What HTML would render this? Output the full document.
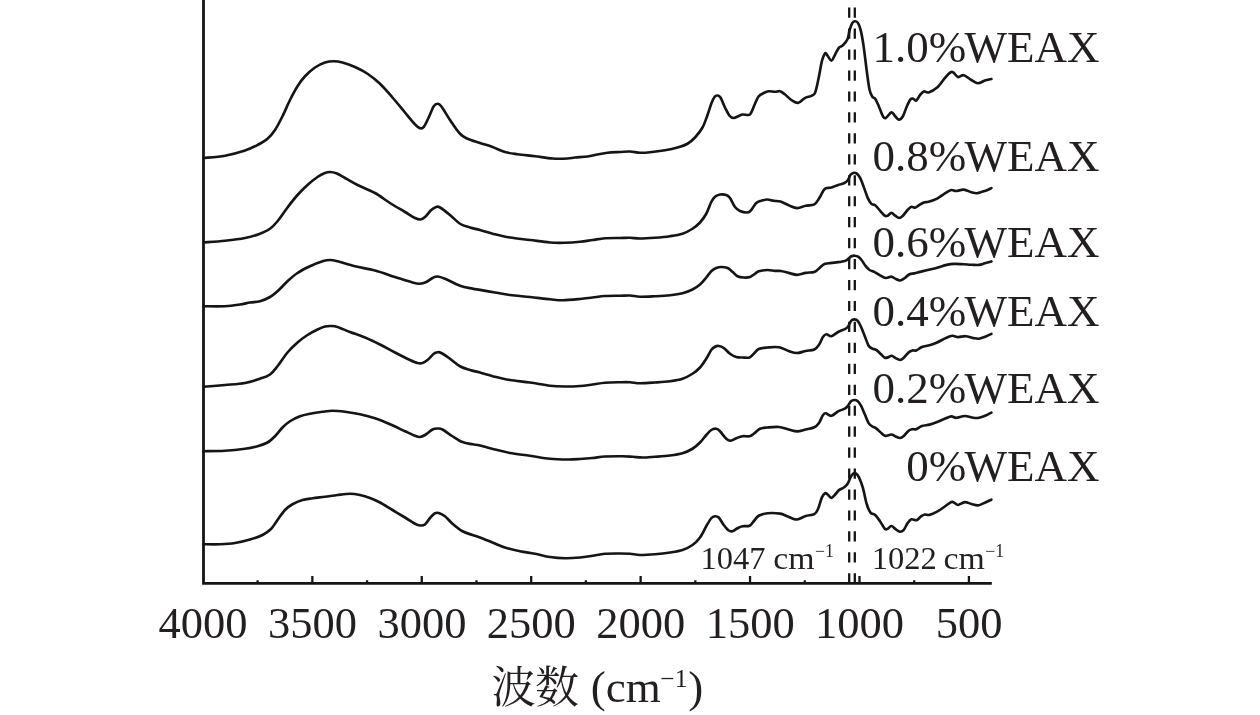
<!DOCTYPE html><html lang="zh"><head><meta charset="utf-8"><title>FTIR</title><style>
html,body{margin:0;padding:0;background:#fff;}body{width:1260px;height:715px;overflow:hidden;position:relative;font-family:"Liberation Serif",serif;}
svg{position:absolute;left:0;top:0;display:block;will-change:transform;transform:translateZ(0)}
text{font-family:"Liberation Serif",serif;fill:#231f20;}
</style></head><body>
<svg width="1260" height="715" viewBox="0 0 1260 715">
<rect width="1260" height="715" fill="#fff"/>
<g fill="none" stroke="#151515" stroke-width="2.8" stroke-linecap="butt">
<path d="M203.5 0V583.3H991.8"/>
<path d="M312.33 583.3V576.1M421.76 583.3V576.1M531.19 583.3V576.1M640.62 583.3V576.1M750.05 583.3V576.1M859.48 583.3V576.1M968.91 583.3V576.1M257.62 583.3V580.2M367.05 583.3V580.2M476.48 583.3V580.2M585.90 583.3V580.2M695.34 583.3V580.2M804.76 583.3V580.2M914.20 583.3V580.2" stroke-width="2.3"/>
</g>
<g stroke="#151515" stroke-width="2.3" stroke-dasharray="10.2 10.75" fill="none">
<path d="M849.2 7.6V583.3"/><path d="M854.8 7.6V583.3"/>
</g>
<g fill="none" stroke="#151515" stroke-width="2.65" stroke-linejoin="round" stroke-linecap="round">
<path d="M203.50 158.00C207.08 157.62 218.08 157.00 225.00 155.75C231.92 154.50 239.58 152.29 245.00 150.50C250.42 148.71 253.75 146.96 257.50 145.00C261.25 143.04 264.58 141.25 267.50 138.75C270.42 136.25 272.50 133.75 275.00 130.00C277.50 126.25 280.00 121.25 282.50 116.25C285.00 111.25 287.50 105.00 290.00 100.00C292.50 95.00 295.00 90.21 297.50 86.25C300.00 82.29 302.08 79.38 305.00 76.25C307.92 73.12 311.67 69.79 315.00 67.50C318.33 65.21 321.88 63.54 325.00 62.50C328.12 61.46 330.83 61.25 333.75 61.25C336.67 61.25 338.96 61.54 342.50 62.50C346.04 63.46 350.83 65.12 355.00 67.00C359.17 68.88 363.33 70.96 367.50 73.75C371.67 76.54 375.83 79.79 380.00 83.75C384.17 87.71 388.33 92.71 392.50 97.50C396.67 102.29 401.25 108.03 405.00 112.50C408.75 116.97 412.45 121.67 415.00 124.30C417.55 126.93 418.80 127.92 420.30 128.30C421.80 128.68 422.57 128.48 424.00 126.60C425.43 124.72 427.27 120.39 428.90 117.00C430.52 113.61 432.32 108.46 433.75 106.25C435.18 104.04 436.25 103.75 437.50 103.75C438.75 103.75 439.17 103.54 441.25 106.25C443.33 108.96 446.88 115.42 450.00 120.00C453.12 124.58 457.08 130.62 460.00 133.75C462.92 136.88 464.17 137.21 467.50 138.75C470.83 140.29 475.83 141.62 480.00 143.00C484.17 144.38 488.33 145.50 492.50 147.00C496.67 148.50 500.83 150.79 505.00 152.00C509.17 153.21 512.50 153.54 517.50 154.25C522.50 154.96 529.17 155.54 535.00 156.25C540.83 156.96 547.08 158.12 552.50 158.50C557.92 158.88 563.75 158.67 567.50 158.50C571.25 158.33 571.67 157.83 575.00 157.50C578.33 157.17 583.75 157.00 587.50 156.50C591.25 156.00 594.17 155.12 597.50 154.50C600.83 153.88 603.75 153.17 607.50 152.75C611.25 152.33 616.25 152.21 620.00 152.00C623.75 151.79 626.67 151.38 630.00 151.50C633.33 151.62 636.67 152.62 640.00 152.75C643.33 152.88 645.83 152.67 650.00 152.25C654.17 151.83 660.42 151.04 665.00 150.25C669.58 149.46 673.75 148.58 677.50 147.50C681.25 146.42 684.58 145.42 687.50 143.75C690.42 142.08 692.50 140.21 695.00 137.50C697.50 134.79 700.42 131.25 702.50 127.50C704.58 123.75 706.04 118.96 707.50 115.00C708.96 111.04 710.08 106.75 711.25 103.75C712.42 100.75 713.46 98.38 714.50 97.00C715.54 95.62 716.50 95.42 717.50 95.50C718.50 95.58 719.25 95.50 720.50 97.50C721.75 99.50 723.50 104.46 725.00 107.50C726.50 110.54 728.04 114.00 729.50 115.75C730.96 117.50 732.21 117.96 733.75 118.00C735.29 118.04 737.29 116.58 738.75 116.00C740.21 115.42 740.83 114.67 742.50 114.50C744.17 114.33 747.29 115.33 748.75 115.00C750.21 114.67 750.21 114.38 751.25 112.50C752.29 110.62 753.75 106.46 755.00 103.75C756.25 101.04 757.29 98.04 758.75 96.25C760.21 94.46 762.08 93.83 763.75 93.00C765.42 92.17 766.88 91.46 768.75 91.25C770.62 91.04 773.12 91.75 775.00 91.75C776.88 91.75 778.37 90.83 780.00 91.25C781.63 91.67 782.90 92.84 784.80 94.30C786.70 95.76 789.18 98.57 791.40 100.00C793.62 101.43 795.87 103.22 798.10 102.90C800.33 102.58 802.58 99.28 804.80 98.10C807.02 96.92 809.67 96.75 811.40 95.80C813.13 94.85 813.93 95.67 815.20 92.40C816.47 89.13 817.88 81.43 819.00 76.20C820.12 70.97 820.93 64.75 821.90 61.00C822.87 57.25 824.00 54.82 824.80 53.70C825.60 52.58 825.60 53.15 826.70 54.30C827.80 55.45 829.98 60.60 831.40 60.60C832.82 60.60 833.93 56.47 835.20 54.30C836.47 52.13 837.72 49.10 839.00 47.60C840.28 46.10 841.47 46.73 842.90 45.30C844.33 43.87 846.50 41.47 847.60 39.00C848.70 36.53 848.70 33.18 849.50 30.50C850.30 27.82 851.45 24.43 852.40 22.90C853.35 21.37 854.25 21.25 855.20 21.30C856.15 21.35 857.13 21.52 858.10 23.20C859.07 24.88 860.05 27.33 861.00 31.40C861.95 35.47 862.85 41.08 863.80 47.60C864.75 54.12 865.75 63.52 866.70 70.50C867.65 77.48 868.55 85.12 869.50 89.50C870.45 93.88 871.45 95.27 872.40 96.80C873.35 98.33 874.10 97.05 875.20 98.70C876.30 100.35 877.72 103.78 879.00 106.70C880.28 109.62 881.78 114.30 882.90 116.20C884.02 118.10 884.28 118.73 885.70 118.10C887.12 117.47 889.82 112.72 891.40 112.40C892.98 112.08 893.93 115.00 895.20 116.20C896.47 117.40 897.72 119.60 899.00 119.60C900.28 119.60 901.62 118.35 902.90 116.20C904.18 114.05 905.43 109.50 906.70 106.70C907.97 103.90 909.40 100.73 910.50 99.40C911.60 98.07 912.35 98.50 913.30 98.70C914.25 98.90 915.08 101.18 916.20 100.60C917.32 100.02 918.73 96.73 920.00 95.20C921.27 93.67 922.37 91.87 923.80 91.40C925.23 90.93 926.38 93.03 928.60 92.40C930.82 91.77 934.40 89.98 937.10 87.60C939.80 85.22 942.57 80.63 944.80 78.10C947.03 75.57 949.08 73.35 950.50 72.40C951.92 71.45 952.03 71.62 953.30 72.40C954.57 73.18 956.35 76.63 958.10 77.10C959.85 77.57 961.58 74.72 963.80 75.20C966.02 75.68 969.02 78.67 971.40 80.00C973.78 81.33 975.87 83.10 978.10 83.20C980.33 83.30 982.58 81.30 984.80 80.60C987.02 79.90 990.30 79.27 991.40 79.00"/>
<path d="M203.50 242.50C207.08 242.21 218.08 241.50 225.00 240.75C231.92 240.00 239.17 239.17 245.00 238.00C250.83 236.83 255.83 235.29 260.00 233.75C264.17 232.21 267.08 230.83 270.00 228.75C272.92 226.67 274.58 224.79 277.50 221.25C280.42 217.71 284.17 211.88 287.50 207.50C290.83 203.12 294.17 198.75 297.50 195.00C300.83 191.25 304.17 188.00 307.50 185.00C310.83 182.00 314.58 179.00 317.50 177.00C320.42 175.00 322.92 173.83 325.00 173.00C327.08 172.17 328.12 171.96 330.00 172.00C331.88 172.04 333.75 172.25 336.25 173.25C338.75 174.25 341.46 176.04 345.00 178.00C348.54 179.96 352.50 182.50 357.50 185.00C362.50 187.50 369.58 190.00 375.00 193.00C380.42 196.00 385.00 199.83 390.00 203.00C395.00 206.17 400.83 209.50 405.00 212.00C409.17 214.50 412.42 216.75 415.00 218.00C417.58 219.25 418.83 219.67 420.50 219.50C422.17 219.33 423.21 218.58 425.00 217.00C426.79 215.42 429.38 211.67 431.25 210.00C433.12 208.33 434.79 207.42 436.25 207.00C437.71 206.58 437.71 206.17 440.00 207.50C442.29 208.83 446.67 212.29 450.00 215.00C453.33 217.71 456.67 221.67 460.00 223.75C463.33 225.83 466.67 226.46 470.00 227.50C473.33 228.54 475.83 228.88 480.00 230.00C484.17 231.12 490.00 233.00 495.00 234.25C500.00 235.50 504.17 236.54 510.00 237.50C515.83 238.46 523.33 239.17 530.00 240.00C536.67 240.83 544.17 242.04 550.00 242.50C555.83 242.96 560.00 242.88 565.00 242.75C570.00 242.62 575.42 242.21 580.00 241.75C584.58 241.29 588.33 240.58 592.50 240.00C596.67 239.42 600.42 238.58 605.00 238.25C609.58 237.92 615.83 238.08 620.00 238.00C624.17 237.92 626.67 237.67 630.00 237.75C633.33 237.83 635.83 238.50 640.00 238.50C644.17 238.50 650.00 238.12 655.00 237.75C660.00 237.38 665.42 236.92 670.00 236.25C674.58 235.58 678.75 235.00 682.50 233.75C686.25 232.50 689.58 230.62 692.50 228.75C695.42 226.88 697.71 225.00 700.00 222.50C702.29 220.00 704.38 217.17 706.25 213.75C708.12 210.33 709.79 204.83 711.25 202.00C712.71 199.17 713.54 198.00 715.00 196.75C716.46 195.50 718.12 194.79 720.00 194.50C721.88 194.21 724.58 194.42 726.25 195.00C727.92 195.58 728.54 196.00 730.00 198.00C731.46 200.00 733.33 204.83 735.00 207.00C736.67 209.17 737.92 210.08 740.00 211.00C742.08 211.92 745.62 212.67 747.50 212.50C749.38 212.33 749.79 211.58 751.25 210.00C752.71 208.42 754.58 204.54 756.25 203.00C757.92 201.46 759.38 201.33 761.25 200.75C763.12 200.17 765.42 199.50 767.50 199.50C769.58 199.50 771.58 200.40 773.75 200.75C775.92 201.10 778.02 200.86 780.50 201.60C782.98 202.34 785.83 204.12 788.60 205.20C791.37 206.28 794.25 208.00 797.10 208.10C799.95 208.20 802.83 206.43 805.70 205.80C808.57 205.17 812.08 205.50 814.30 204.30C816.52 203.10 817.42 200.98 819.00 198.60C820.58 196.22 822.52 191.75 823.80 190.00C825.08 188.25 825.43 188.52 826.70 188.10C827.97 187.68 829.50 188.03 831.40 187.50C833.30 186.97 836.03 185.60 838.10 184.90C840.17 184.20 842.22 184.03 843.80 183.30C845.38 182.57 846.48 181.92 847.60 180.50C848.72 179.08 849.55 176.07 850.50 174.80C851.45 173.53 852.35 173.17 853.30 172.90C854.25 172.63 855.08 172.42 856.20 173.20C857.32 173.98 858.73 175.28 860.00 177.60C861.27 179.92 862.53 183.77 863.80 187.10C865.07 190.43 866.33 194.80 867.60 197.60C868.87 200.40 870.13 202.63 871.40 203.90C872.67 205.17 873.77 204.08 875.20 205.20C876.63 206.32 878.40 208.85 880.00 210.60C881.60 212.35 883.53 214.85 884.80 215.70C886.07 216.55 886.50 216.17 887.60 215.70C888.70 215.23 890.13 212.90 891.40 212.90C892.67 212.90 893.93 214.85 895.20 215.70C896.47 216.55 897.72 218.00 899.00 218.00C900.28 218.00 901.47 217.03 902.90 215.70C904.33 214.37 906.18 211.48 907.60 210.00C909.02 208.52 910.13 207.18 911.40 206.80C912.67 206.42 913.93 207.97 915.20 207.70C916.47 207.43 917.57 206.08 919.00 205.20C920.43 204.32 922.20 202.97 923.80 202.40C925.40 201.83 926.38 202.43 928.60 201.80C930.82 201.17 934.25 200.08 937.10 198.60C939.95 197.12 943.32 194.33 945.70 192.90C948.08 191.47 949.65 190.32 951.40 190.00C953.15 189.68 954.13 191.07 956.20 191.00C958.27 190.93 961.27 189.38 963.80 189.60C966.33 189.82 969.18 191.70 971.40 192.30C973.62 192.90 974.87 193.42 977.10 193.20C979.33 192.98 982.42 191.85 984.80 191.00C987.18 190.15 990.30 188.58 991.40 188.10"/>
<path d="M203.50 306.25C207.08 306.25 218.92 306.54 225.00 306.25C231.08 305.96 235.83 305.12 240.00 304.50C244.17 303.88 246.67 303.04 250.00 302.50C253.33 301.96 256.67 302.17 260.00 301.25C263.33 300.33 267.08 298.67 270.00 297.00C272.92 295.33 274.58 293.88 277.50 291.25C280.42 288.62 284.17 284.29 287.50 281.25C290.83 278.21 293.75 275.50 297.50 273.00C301.25 270.50 305.83 268.21 310.00 266.25C314.17 264.29 319.17 262.29 322.50 261.25C325.83 260.21 327.50 260.00 330.00 260.00C332.50 260.00 333.33 260.21 337.50 261.25C341.67 262.29 348.75 264.71 355.00 266.25C361.25 267.79 368.33 268.71 375.00 270.50C381.67 272.29 388.75 275.00 395.00 277.00C401.25 279.00 408.33 281.38 412.50 282.50C416.67 283.62 417.71 283.83 420.00 283.75C422.29 283.67 424.17 282.96 426.25 282.00C428.33 281.04 430.62 278.92 432.50 278.00C434.38 277.08 435.42 276.38 437.50 276.50C439.58 276.62 441.25 277.21 445.00 278.75C448.75 280.29 455.42 284.11 460.00 285.75C464.58 287.39 469.17 287.91 472.50 288.60C475.83 289.29 476.25 289.25 480.00 289.90C483.75 290.55 490.00 291.65 495.00 292.50C500.00 293.35 504.17 294.25 510.00 295.00C515.83 295.75 523.33 296.29 530.00 297.00C536.67 297.71 544.58 298.71 550.00 299.25C555.42 299.79 557.50 300.29 562.50 300.25C567.50 300.21 575.00 299.46 580.00 299.00C585.00 298.54 588.33 298.00 592.50 297.50C596.67 297.00 600.42 296.29 605.00 296.00C609.58 295.71 615.83 295.83 620.00 295.75C624.17 295.67 626.67 295.33 630.00 295.50C633.33 295.67 635.83 296.62 640.00 296.75C644.17 296.88 650.00 296.50 655.00 296.25C660.00 296.00 665.42 295.75 670.00 295.25C674.58 294.75 678.75 294.21 682.50 293.25C686.25 292.29 689.58 290.96 692.50 289.50C695.42 288.04 697.71 286.50 700.00 284.50C702.29 282.50 704.38 279.71 706.25 277.50C708.12 275.29 709.58 272.83 711.25 271.25C712.92 269.67 714.58 268.71 716.25 268.00C717.92 267.29 719.38 267.00 721.25 267.00C723.12 267.00 725.62 267.21 727.50 268.00C729.38 268.79 730.83 270.38 732.50 271.75C734.17 273.12 735.62 275.29 737.50 276.25C739.38 277.21 741.67 277.38 743.75 277.50C745.83 277.62 748.12 277.62 750.00 277.00C751.88 276.38 753.54 274.71 755.00 273.75C756.46 272.79 756.67 271.88 758.75 271.25C760.83 270.62 764.79 270.06 767.50 270.00C770.21 269.94 772.75 270.73 775.00 270.90C777.25 271.07 778.73 270.67 781.00 271.00C783.27 271.33 785.92 272.27 788.60 272.90C791.28 273.53 794.25 274.80 797.10 274.80C799.95 274.80 802.83 273.38 805.70 272.90C808.57 272.42 812.08 272.63 814.30 271.90C816.52 271.17 817.42 269.77 819.00 268.50C820.58 267.23 822.20 265.17 823.80 264.30C825.40 263.43 826.53 263.62 828.60 263.30C830.67 262.98 833.50 262.80 836.20 262.40C838.90 262.00 842.73 261.53 844.80 260.90C846.87 260.27 847.50 259.37 848.60 258.60C849.70 257.83 850.38 256.78 851.40 256.30C852.42 255.82 853.58 255.63 854.70 255.70C855.82 255.77 856.90 255.90 858.10 256.70C859.30 257.50 860.63 258.92 861.90 260.50C863.17 262.08 864.43 264.62 865.70 266.20C866.97 267.78 868.07 269.05 869.50 270.00C870.93 270.95 872.55 271.02 874.30 271.90C876.05 272.78 878.10 274.28 880.00 275.30C881.90 276.32 883.80 277.77 885.70 278.00C887.60 278.23 889.82 276.60 891.40 276.70C892.98 276.80 893.77 277.97 895.20 278.60C896.63 279.23 898.40 280.60 900.00 280.50C901.60 280.40 903.22 279.05 904.80 278.00C906.38 276.95 907.92 274.97 909.50 274.20C911.08 273.43 912.55 273.78 914.30 273.40C916.05 273.02 917.78 272.47 920.00 271.90C922.22 271.33 924.75 270.70 927.60 270.00C930.45 269.30 933.92 268.55 937.10 267.70C940.28 266.85 943.83 265.53 946.70 264.90C949.57 264.27 951.45 264.00 954.30 263.90C957.15 263.80 960.95 264.17 963.80 264.30C966.65 264.43 968.87 264.60 971.40 264.70C973.93 264.80 976.77 265.13 979.00 264.90C981.23 264.67 982.73 263.88 984.80 263.30C986.87 262.72 990.30 261.72 991.40 261.40"/>
<path d="M203.50 386.75C207.08 386.46 218.08 385.62 225.00 385.00C231.92 384.38 239.17 384.04 245.00 383.00C250.83 381.96 255.83 380.17 260.00 378.75C264.17 377.33 267.08 376.58 270.00 374.50C272.92 372.42 274.58 369.92 277.50 366.25C280.42 362.58 284.17 356.46 287.50 352.50C290.83 348.54 294.17 345.42 297.50 342.50C300.83 339.58 304.17 337.17 307.50 335.00C310.83 332.83 314.58 330.92 317.50 329.50C320.42 328.08 322.71 327.08 325.00 326.50C327.29 325.92 329.17 325.92 331.25 326.00C333.33 326.08 334.38 326.00 337.50 327.00C340.62 328.00 345.42 330.25 350.00 332.00C354.58 333.75 360.00 335.42 365.00 337.50C370.00 339.58 375.00 342.00 380.00 344.50C385.00 347.00 390.00 349.92 395.00 352.50C400.00 355.08 406.25 358.25 410.00 360.00C413.75 361.75 415.42 362.50 417.50 363.00C419.58 363.50 420.83 363.50 422.50 363.00C424.17 362.50 425.62 361.54 427.50 360.00C429.38 358.46 432.08 355.04 433.75 353.75C435.42 352.46 436.25 352.38 437.50 352.25C438.75 352.12 439.17 351.92 441.25 353.00C443.33 354.08 446.88 356.54 450.00 358.75C453.12 360.96 456.67 364.38 460.00 366.25C463.33 368.12 466.67 368.96 470.00 370.00C473.33 371.04 475.83 371.38 480.00 372.50C484.17 373.62 490.00 375.50 495.00 376.75C500.00 378.00 504.17 379.04 510.00 380.00C515.83 380.96 523.33 381.54 530.00 382.50C536.67 383.46 544.17 385.08 550.00 385.75C555.83 386.42 560.00 386.46 565.00 386.50C570.00 386.54 575.42 386.33 580.00 386.00C584.58 385.67 588.33 385.04 592.50 384.50C596.67 383.96 600.42 383.12 605.00 382.75C609.58 382.38 615.83 382.33 620.00 382.25C624.17 382.17 626.67 382.08 630.00 382.25C633.33 382.42 635.83 383.21 640.00 383.25C644.17 383.29 650.00 382.83 655.00 382.50C660.00 382.17 665.42 381.88 670.00 381.25C674.58 380.62 678.75 380.00 682.50 378.75C686.25 377.50 689.58 375.62 692.50 373.75C695.42 371.88 697.71 370.00 700.00 367.50C702.29 365.00 704.38 361.67 706.25 358.75C708.12 355.83 709.79 352.00 711.25 350.00C712.71 348.00 713.75 347.42 715.00 346.75C716.25 346.08 717.29 345.79 718.75 346.00C720.21 346.21 721.88 346.71 723.75 348.00C725.62 349.29 727.92 352.25 730.00 353.75C732.08 355.25 734.17 356.38 736.25 357.00C738.33 357.62 740.29 357.42 742.50 357.50C744.71 357.58 747.62 358.12 749.50 357.50C751.38 356.88 752.21 355.17 753.75 353.75C755.29 352.33 756.46 350.04 758.75 349.00C761.04 347.96 764.12 347.80 767.50 347.50C770.88 347.20 775.48 346.62 779.00 347.20C782.52 347.78 785.58 350.03 788.60 351.00C791.62 351.97 794.25 353.00 797.10 353.00C799.95 353.00 802.83 351.58 805.70 351.00C808.57 350.42 812.08 350.53 814.30 349.50C816.52 348.47 817.57 346.87 819.00 344.80C820.43 342.73 821.68 338.85 822.90 337.10C824.12 335.35 824.88 334.45 826.30 334.30C827.72 334.15 829.43 336.58 831.40 336.20C833.37 335.82 835.87 333.18 838.10 332.00C840.33 330.82 843.15 329.98 844.80 329.10C846.45 328.22 846.97 328.05 848.00 326.70C849.03 325.35 849.95 322.22 851.00 321.00C852.05 319.78 853.22 319.47 854.30 319.40C855.38 319.33 856.38 319.38 857.50 320.60C858.62 321.82 859.78 324.10 861.00 326.70C862.22 329.30 863.53 333.03 864.80 336.20C866.07 339.37 867.33 343.63 868.60 345.70C869.87 347.77 871.13 347.90 872.40 348.60C873.67 349.30 874.77 348.95 876.20 349.90C877.63 350.85 879.57 353.00 881.00 354.30C882.43 355.60 883.53 357.23 884.80 357.70C886.07 358.17 887.43 357.42 888.60 357.10C889.77 356.78 890.63 355.63 891.80 355.80C892.97 355.97 894.23 357.40 895.60 358.10C896.97 358.80 898.63 360.07 900.00 360.00C901.37 359.93 902.37 358.97 903.80 357.70C905.23 356.43 907.17 353.60 908.60 352.40C910.03 351.20 911.13 350.82 912.40 350.50C913.67 350.18 914.62 351.08 916.20 350.50C917.78 349.92 919.68 347.87 921.90 347.00C924.12 346.13 926.97 346.05 929.50 345.30C932.03 344.55 934.40 343.70 937.10 342.50C939.80 341.30 943.15 339.22 945.70 338.10C948.25 336.98 950.33 335.97 952.40 335.80C954.47 335.63 955.88 337.03 958.10 337.10C960.32 337.17 963.17 336.03 965.70 336.20C968.23 336.37 971.08 337.68 973.30 338.10C975.52 338.52 976.93 338.95 979.00 338.70C981.07 338.45 983.63 337.40 985.70 336.60C987.77 335.80 990.45 334.35 991.40 333.90"/>
<path d="M203.50 451.25C207.08 451.17 218.08 451.17 225.00 450.75C231.92 450.33 239.58 449.50 245.00 448.75C250.42 448.00 253.75 447.29 257.50 446.25C261.25 445.21 264.58 444.17 267.50 442.50C270.42 440.83 272.50 438.75 275.00 436.25C277.50 433.75 280.00 430.00 282.50 427.50C285.00 425.00 287.08 423.12 290.00 421.25C292.92 419.38 296.67 417.50 300.00 416.25C303.33 415.00 306.25 414.50 310.00 413.75C313.75 413.00 318.75 412.25 322.50 411.75C326.25 411.25 328.75 410.75 332.50 410.75C336.25 410.75 340.42 411.17 345.00 411.75C349.58 412.33 355.00 413.17 360.00 414.25C365.00 415.33 370.00 416.58 375.00 418.25C380.00 419.92 385.00 422.08 390.00 424.25C395.00 426.42 400.83 429.33 405.00 431.25C409.17 433.17 412.50 434.79 415.00 435.75C417.50 436.71 418.33 437.12 420.00 437.00C421.67 436.88 422.92 436.25 425.00 435.00C427.08 433.75 430.42 430.58 432.50 429.50C434.58 428.42 435.83 428.50 437.50 428.50C439.17 428.50 440.00 428.21 442.50 429.50C445.00 430.79 449.17 434.17 452.50 436.25C455.83 438.33 459.17 440.67 462.50 442.00C465.83 443.33 469.58 443.67 472.50 444.25C475.42 444.83 476.25 444.62 480.00 445.50C483.75 446.38 490.00 448.25 495.00 449.50C500.00 450.75 504.17 451.96 510.00 453.00C515.83 454.04 523.33 454.79 530.00 455.75C536.67 456.71 543.75 458.12 550.00 458.75C556.25 459.38 562.50 459.46 567.50 459.50C572.50 459.54 575.83 459.25 580.00 459.00C584.17 458.75 588.33 458.42 592.50 458.00C596.67 457.58 600.00 456.79 605.00 456.50C610.00 456.21 617.92 456.21 622.50 456.25C627.08 456.29 629.17 456.54 632.50 456.75C635.83 456.96 638.75 457.50 642.50 457.50C646.25 457.50 650.42 457.08 655.00 456.75C659.58 456.42 665.42 456.08 670.00 455.50C674.58 454.92 678.75 454.38 682.50 453.25C686.25 452.12 689.58 450.54 692.50 448.75C695.42 446.96 697.71 444.79 700.00 442.50C702.29 440.21 704.38 437.08 706.25 435.00C708.12 432.92 709.58 431.04 711.25 430.00C712.92 428.96 714.79 428.54 716.25 428.75C717.71 428.96 718.33 429.58 720.00 431.25C721.67 432.92 724.46 437.17 726.25 438.75C728.04 440.33 729.08 440.83 730.75 440.75C732.42 440.67 734.29 439.00 736.25 438.25C738.21 437.50 740.29 436.58 742.50 436.25C744.71 435.92 747.62 436.67 749.50 436.25C751.38 435.83 752.00 435.00 753.75 433.75C755.50 432.50 757.71 429.79 760.00 428.75C762.29 427.71 764.33 427.79 767.50 427.50C770.67 427.21 775.48 426.67 779.00 427.00C782.52 427.33 785.58 428.77 788.60 429.50C791.62 430.23 794.25 431.40 797.10 431.40C799.95 431.40 802.83 430.20 805.70 429.50C808.57 428.80 812.08 428.30 814.30 427.20C816.52 426.10 817.57 424.90 819.00 422.90C820.43 420.90 821.78 416.80 822.90 415.20C824.02 413.60 824.28 413.20 825.70 413.30C827.12 413.40 829.33 416.12 831.40 415.80C833.47 415.48 835.87 412.60 838.10 411.40C840.33 410.20 843.15 409.55 844.80 408.60C846.45 407.65 846.97 406.92 848.00 405.70C849.03 404.48 849.95 402.25 851.00 401.30C852.05 400.35 853.22 400.05 854.30 400.00C855.38 399.95 856.38 400.05 857.50 401.00C858.62 401.95 859.78 403.48 861.00 405.70C862.22 407.92 863.53 411.40 864.80 414.30C866.07 417.20 867.33 421.07 868.60 423.10C869.87 425.13 871.13 425.62 872.40 426.50C873.67 427.38 874.62 427.22 876.20 428.40C877.78 429.58 880.32 432.35 881.90 433.60C883.48 434.85 884.12 435.75 885.70 435.90C887.28 436.05 889.75 434.42 891.40 434.50C893.05 434.58 894.17 435.82 895.60 436.40C897.03 436.98 898.63 438.07 900.00 438.00C901.37 437.93 902.37 437.22 903.80 436.00C905.23 434.78 907.17 431.83 908.60 430.70C910.03 429.57 911.13 429.45 912.40 429.20C913.67 428.95 914.62 429.73 916.20 429.20C917.78 428.67 919.68 426.77 921.90 426.00C924.12 425.23 926.97 425.25 929.50 424.60C932.03 423.95 934.40 423.15 937.10 422.10C939.80 421.05 943.32 419.25 945.70 418.30C948.08 417.35 949.65 416.48 951.40 416.40C953.15 416.32 953.97 417.87 956.20 417.80C958.43 417.73 961.95 416.00 964.80 416.00C967.65 416.00 970.93 417.50 973.30 417.80C975.67 418.10 976.93 418.18 979.00 417.80C981.07 417.42 983.63 416.37 985.70 415.50C987.77 414.63 990.45 413.08 991.40 412.60"/>
<path d="M203.50 544.25C206.25 544.25 214.75 544.46 220.00 544.25C225.25 544.04 230.00 543.79 235.00 543.00C240.00 542.21 245.42 540.83 250.00 539.50C254.58 538.17 258.96 536.79 262.50 535.00C266.04 533.21 268.75 531.25 271.25 528.75C273.75 526.25 275.21 523.12 277.50 520.00C279.79 516.88 282.50 512.62 285.00 510.00C287.50 507.38 289.58 505.92 292.50 504.25C295.42 502.58 299.17 501.00 302.50 500.00C305.83 499.00 308.75 498.79 312.50 498.25C316.25 497.71 320.83 497.29 325.00 496.75C329.17 496.21 333.33 495.50 337.50 495.00C341.67 494.50 346.25 493.75 350.00 493.75C353.75 493.75 356.67 494.29 360.00 495.00C363.33 495.71 366.67 496.75 370.00 498.00C373.33 499.25 376.25 500.50 380.00 502.50C383.75 504.50 388.33 507.50 392.50 510.00C396.67 512.50 401.25 515.21 405.00 517.50C408.75 519.79 412.50 522.42 415.00 523.75C417.50 525.08 418.33 525.38 420.00 525.50C421.67 525.62 423.33 525.75 425.00 524.50C426.67 523.25 428.33 519.88 430.00 518.00C431.67 516.12 433.54 514.08 435.00 513.25C436.46 512.42 437.08 512.50 438.75 513.00C440.42 513.50 442.71 514.46 445.00 516.25C447.29 518.04 449.58 521.25 452.50 523.75C455.42 526.25 459.17 529.38 462.50 531.25C465.83 533.12 469.58 533.96 472.50 535.00C475.42 536.04 476.67 536.25 480.00 537.50C483.33 538.75 488.33 540.83 492.50 542.50C496.67 544.17 500.42 546.04 505.00 547.50C509.58 548.96 515.00 550.21 520.00 551.25C525.00 552.29 530.00 552.79 535.00 553.75C540.00 554.71 545.00 556.25 550.00 557.00C555.00 557.75 560.00 558.17 565.00 558.25C570.00 558.33 575.42 557.92 580.00 557.50C584.58 557.08 588.33 556.38 592.50 555.75C596.67 555.12 600.42 554.12 605.00 553.75C609.58 553.38 615.83 553.50 620.00 553.50C624.17 553.50 626.67 553.50 630.00 553.75C633.33 554.00 635.83 554.92 640.00 555.00C644.17 555.08 650.00 554.67 655.00 554.25C660.00 553.83 665.42 553.21 670.00 552.50C674.58 551.79 678.75 551.25 682.50 550.00C686.25 548.75 689.58 547.08 692.50 545.00C695.42 542.92 697.71 540.62 700.00 537.50C702.29 534.38 704.38 529.46 706.25 526.25C708.12 523.04 709.79 519.92 711.25 518.25C712.71 516.58 713.75 516.38 715.00 516.25C716.25 516.12 717.29 516.04 718.75 517.50C720.21 518.96 722.08 522.83 723.75 525.00C725.42 527.17 727.29 529.46 728.75 530.50C730.21 531.54 731.04 531.62 732.50 531.25C733.96 530.88 735.83 529.08 737.50 528.25C739.17 527.42 740.50 526.67 742.50 526.25C744.50 525.83 747.62 526.58 749.50 525.75C751.38 524.92 752.21 522.92 753.75 521.25C755.29 519.58 756.46 517.08 758.75 515.75C761.04 514.42 763.96 513.61 767.50 513.25C771.04 512.89 776.80 513.14 780.00 513.60C783.20 514.06 784.48 515.12 786.70 516.00C788.92 516.88 791.40 518.35 793.30 518.90C795.20 519.45 796.03 519.78 798.10 519.30C800.17 518.82 803.00 516.87 805.70 516.00C808.40 515.13 812.23 515.30 814.30 514.10C816.37 512.90 816.83 511.58 818.10 508.80C819.37 506.02 820.73 500.00 821.90 497.40C823.07 494.80 824.15 493.68 825.10 493.20C826.05 492.72 826.55 493.73 827.60 494.50C828.65 495.27 830.13 497.80 831.40 497.80C832.67 497.80 833.93 495.78 835.20 494.50C836.47 493.22 837.57 491.27 839.00 490.10C840.43 488.93 842.37 488.57 843.80 487.50C845.23 486.43 846.48 485.38 847.60 483.70C848.72 482.02 849.55 479.08 850.50 477.40C851.45 475.72 852.35 474.23 853.30 473.60C854.25 472.97 855.25 472.97 856.20 473.60C857.15 474.23 857.88 475.02 859.00 477.40C860.12 479.78 861.62 483.47 862.90 487.90C864.18 492.33 865.43 499.88 866.70 504.00C867.97 508.12 869.08 510.75 870.50 512.60C871.92 514.45 873.62 513.67 875.20 515.10C876.78 516.53 878.40 518.92 880.00 521.20C881.60 523.48 883.53 527.53 884.80 528.80C886.07 530.07 886.50 529.27 887.60 528.80C888.70 528.33 890.07 525.93 891.40 526.00C892.73 526.07 894.17 528.25 895.60 529.20C897.03 530.15 898.63 531.60 900.00 531.70C901.37 531.80 902.53 531.23 903.80 529.80C905.07 528.37 906.33 524.85 907.60 523.10C908.87 521.35 909.90 519.78 911.40 519.30C912.90 518.82 915.00 520.68 916.60 520.20C918.20 519.72 919.63 517.35 921.00 516.40C922.37 515.45 923.38 514.75 924.80 514.50C926.22 514.25 927.45 515.37 929.50 514.90C931.55 514.43 934.55 513.10 937.10 511.70C939.65 510.30 942.42 508.10 944.80 506.50C947.18 504.90 949.82 502.73 951.40 502.10C952.98 501.47 953.18 502.22 954.30 502.70C955.42 503.18 956.35 505.10 958.10 505.00C959.85 504.90 962.58 502.27 964.80 502.10C967.02 501.93 969.18 503.45 971.40 504.00C973.62 504.55 975.87 505.62 978.10 505.40C980.33 505.18 982.58 503.65 984.80 502.70C987.02 501.75 990.30 500.20 991.40 499.70"/>
</g>
<text x="203.0" y="638" font-size="44.5" text-anchor="middle">4000</text>
<text x="312.4" y="638" font-size="44.5" text-anchor="middle">3500</text>
<text x="421.9" y="638" font-size="44.5" text-anchor="middle">3000</text>
<text x="531.3" y="638" font-size="44.5" text-anchor="middle">2500</text>
<text x="640.7" y="638" font-size="44.5" text-anchor="middle">2000</text>
<text x="750.2" y="638" font-size="44.5" text-anchor="middle">1500</text>
<text x="859.6" y="638" font-size="44.5" text-anchor="middle">1000</text>
<text x="969.0" y="638" font-size="44.5" text-anchor="middle">500</text>
<text x="1099.5" y="61.5" font-size="45" text-anchor="end">1.0%<tspan dx="-1.8">WEAX</tspan></text>
<text x="1099.5" y="170.7" font-size="45" text-anchor="end">0.8%<tspan dx="-1.8">WEAX</tspan></text>
<text x="1099.5" y="256.9" font-size="45" text-anchor="end">0.6%<tspan dx="-1.8">WEAX</tspan></text>
<text x="1099.5" y="326.1" font-size="45" text-anchor="end">0.4%<tspan dx="-1.8">WEAX</tspan></text>
<text x="1099.5" y="403.4" font-size="45" text-anchor="end">0.2%<tspan dx="-1.8">WEAX</tspan></text>
<text x="1099.5" y="480.7" font-size="45" text-anchor="end">0%<tspan dx="-1.8">WEAX</tspan></text>
<text x="700.4" y="568.6" font-size="32.5">1047</text><text transform="translate(773.2 568.6) scale(1.04 1)" font-size="32.5">cm</text><text x="815.0" y="556.6" font-size="17.8">−1</text>
<text x="871.8" y="568.6" font-size="32.5">1022</text><text transform="translate(943.4 568.6) scale(1.04 1)" font-size="32.5">cm</text><text x="985.2" y="556.6" font-size="17.8">−1</text>
<text x="491.4 535.0" y="702.6" font-size="44" style="font-family:'Liberation Serif','Noto Serif CJK SC',serif">波数</text>
<text x="590.7" y="701.7" font-size="45">(cm</text>
<text x="660.3" y="686.7" font-size="25.5">−1</text>
<text x="688.2" y="701.7" font-size="45">)</text>
</svg></body></html>
